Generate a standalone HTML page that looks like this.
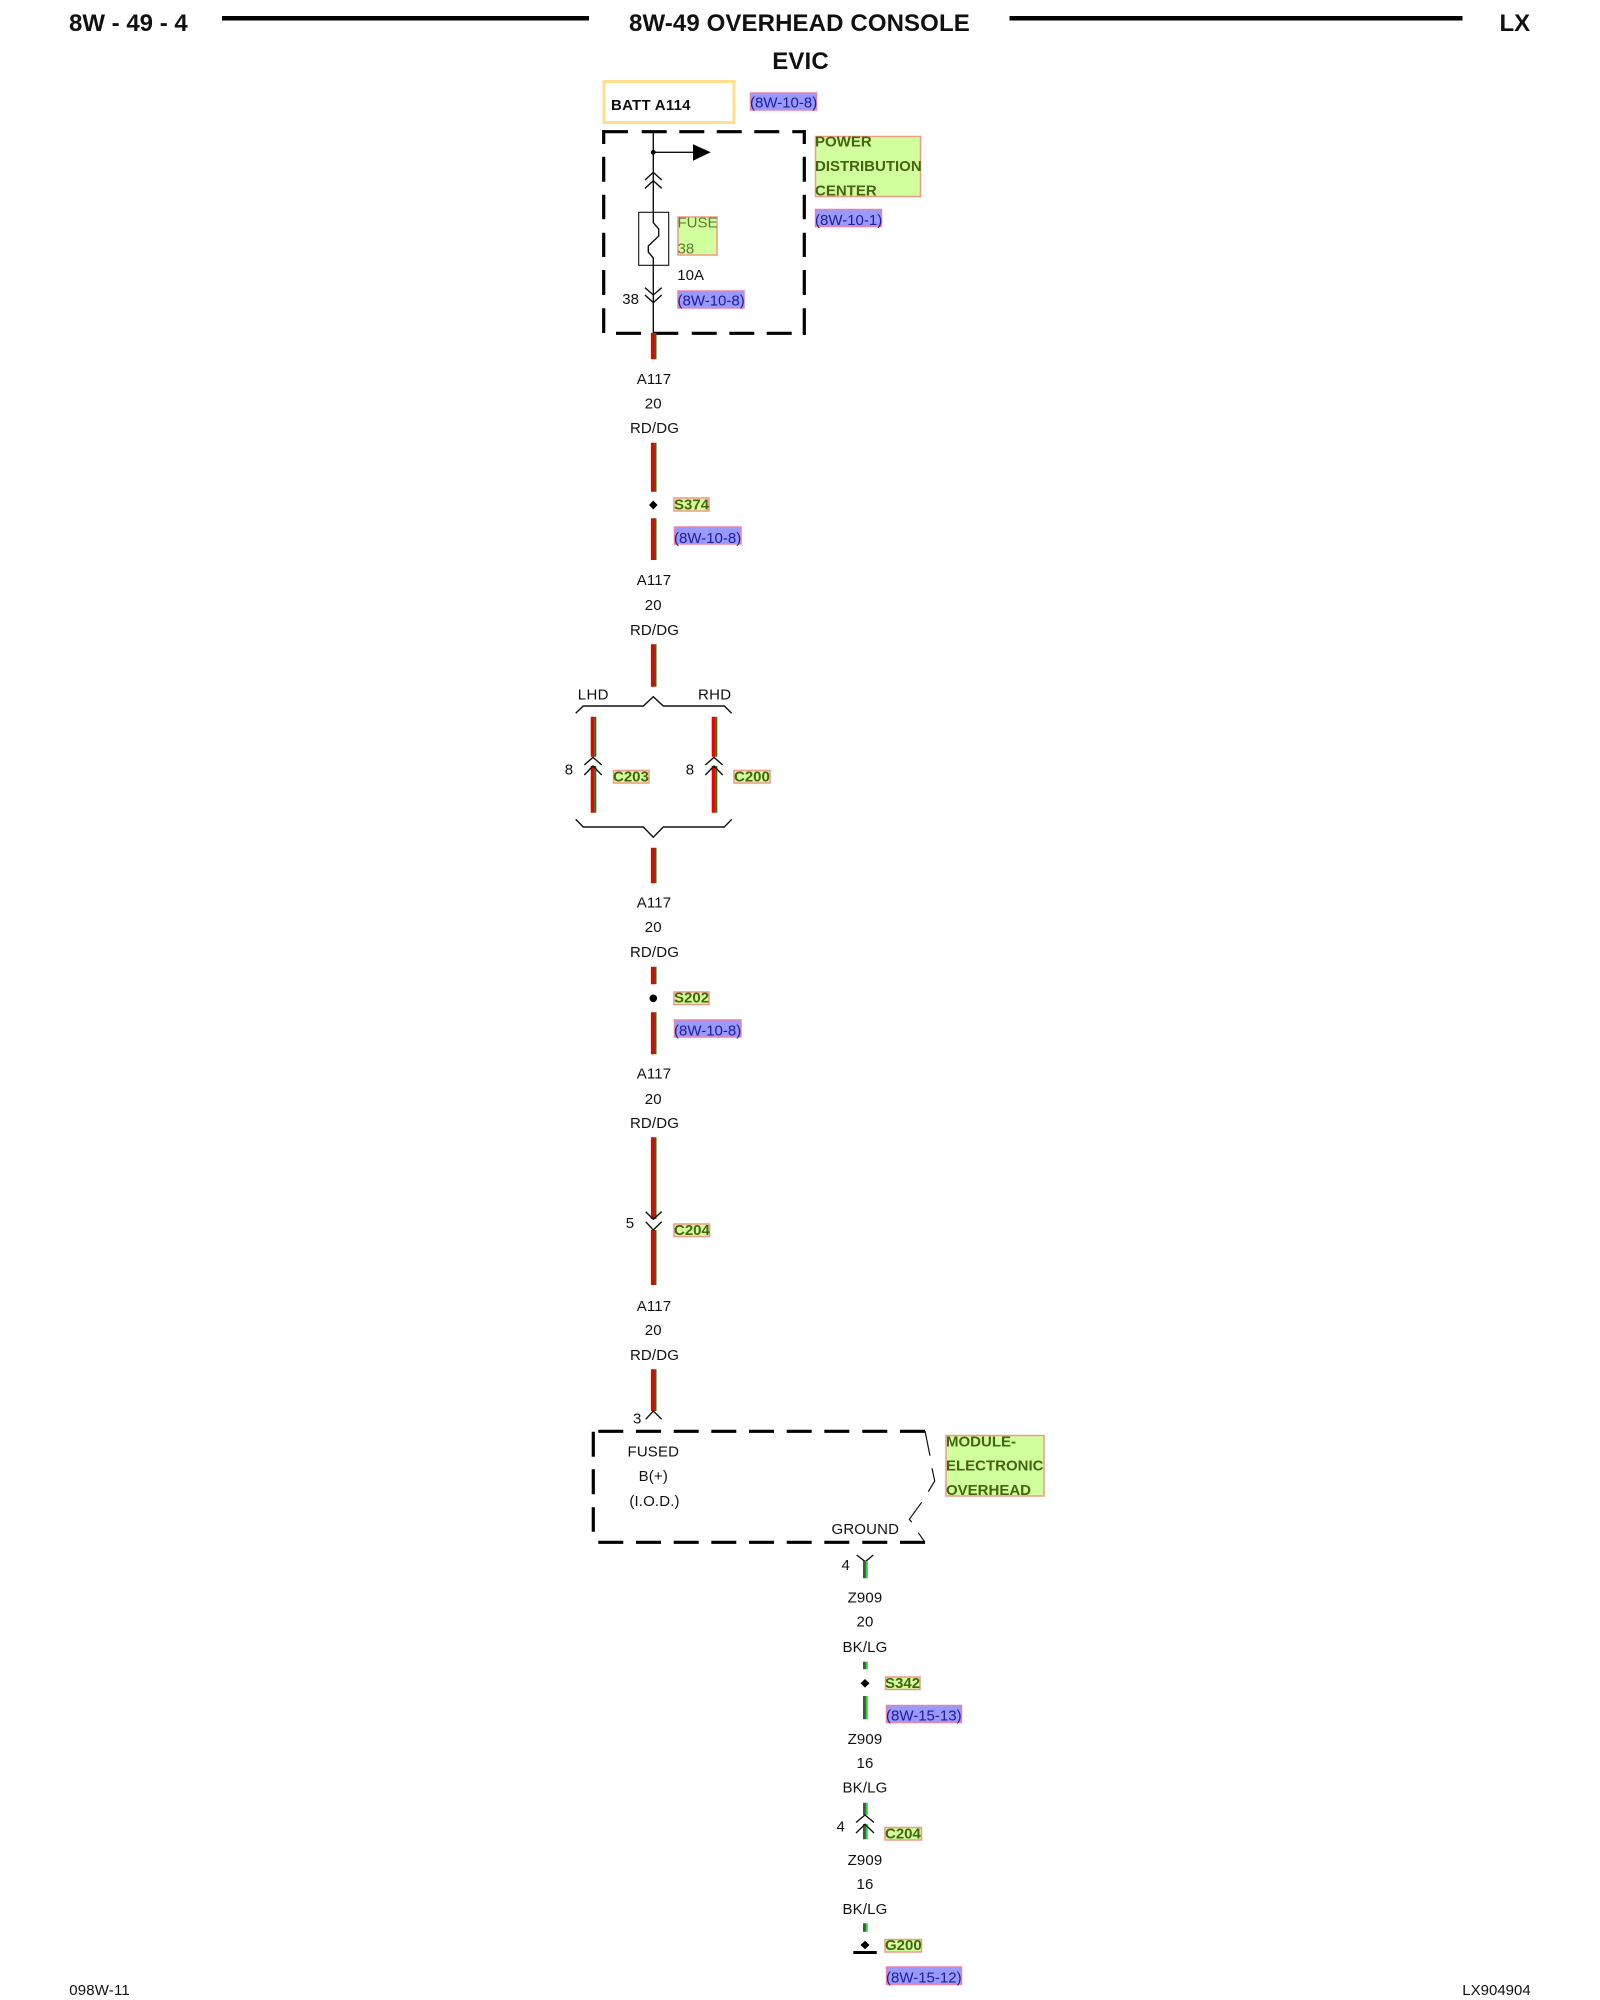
<!DOCTYPE html>
<html lang="en">
<head>
<meta charset="utf-8">
<title>8W-49 Overhead Console</title>
<style>
html,body{margin:0;padding:0;background:#fff;width:1600px;height:2000px;overflow:hidden}
svg{display:block;position:absolute;left:0;top:0}
text{font-family:"Liberation Sans",Arial,sans-serif;font-size:15px;fill:#111}
.h{font-size:24px;font-weight:bold;fill:#111}
.m{text-anchor:middle;letter-spacing:.15px}
.gb{fill:#d2ff9e;stroke:#ee9a88;stroke-width:1.5}
.bb{fill:#9999ff;stroke:#e884a8;stroke-width:1.5}
.gt{font-weight:bold;fill:#466410}
.ft{fill:#5f7a2a}
.bt{fill:#1c1c9c}
.r{fill:none;stroke:#ee0000;stroke-width:3.6}
.n{fill:none;stroke:#0f7a0f;stroke-width:2}
.d{fill:none;stroke:#505050;stroke-width:3}
.l{fill:none;stroke:#22dd33;stroke-width:2}
.k{fill:none;stroke:#111;stroke-width:1.4}
.t{fill:none;stroke:#111;stroke-width:1.2}
.dash{fill:none;stroke:#000;stroke-width:3.2}
</style>
</head>
<body>
<svg width="1600" height="2000" viewBox="0 0 1600 2000" xmlns="http://www.w3.org/2000/svg">
<rect width="1600" height="2000" fill="#fff"/>

<!-- header -->
<text class="h" x="69" y="31">8W - 49 - 4</text>
<rect x="222" y="16" width="367" height="4.5" fill="#000"/>
<text class="h" x="629" y="31" style="letter-spacing:.12px">8W-49 OVERHEAD CONSOLE</text>
<rect x="1009.5" y="16" width="453" height="4.5" fill="#000"/>
<text class="h" x="1499.5" y="31">LX</text>
<text class="h m" x="800.5" y="69">EVIC</text>

<!-- battery -->
<rect x="604" y="81.5" width="130" height="41" fill="#fff" stroke="#ffdf8c" stroke-width="3"/>
<text x="611" y="110" style="font-weight:bold;letter-spacing:.25px">BATT A114</text>
<rect class="bb" x="750.5" y="93" width="66" height="17"/>
<text class="bt" x="750" y="107.7">(8W-10-8)</text>

<!-- PDC dashed box -->
<path class="dash" d="M603 131.7H628M641.7 131.7H666.7M679.3 131.7H704.3M716.7 131.7H741.7M754.3 131.7H779.3M792.3 131.7H805.8
M616 333.3H641M654 333.3H678.3M691.7 333.3H716.7M729.3 333.3H754.3M766.7 333.3H791.7
M603.7 130V144M603.7 156.7V181.7M603.7 194.7V219.3M603.7 232.7V257M603.7 270V295M603.7 308.3V333
M804.3 130V144M804.3 156.7V181.7M804.3 194.7V219.3M804.3 232.7V257M804.3 270V295M804.3 308.3V335"/>
<path class="k" stroke-linejoin="round" d="M653.3 131V222.7L658.7 229V236L648.3 246V252L653.3 258V333"/>
<path class="k" d="M653.3 152.3H693M645 180L653.3 172.3L661.7 180M645 188.3L653.3 180.7L661.7 188.3M645 287.7L653.3 295L661.7 287.7M645 295L653.3 302.7L661.7 295"/>
<circle cx="653.3" cy="152.3" r="2.4" fill="#000"/>
<path d="M693 144.3L710.7 152.3L693 160.7Z" fill="#000"/>
<rect x="638.7" y="212.3" width="30" height="53" fill="none" stroke="#111" stroke-width="1.1"/>

<rect class="gb" x="678" y="217" width="39" height="38"/>
<text class="ft" x="677.5" y="227.7">FUSE</text>
<text class="ft" x="677.5" y="253.3">38</text>
<text x="677.3" y="280">10A</text>
<text class="m" x="630.7" y="304">38</text>
<rect class="bb" x="678" y="291" width="66" height="17"/>
<text class="bt" x="677.5" y="305.5">(8W-10-8)</text>

<rect class="gb" x="815.5" y="136.5" width="105" height="60"/>
<text class="gt" x="815" y="146.3">POWER</text>
<text class="gt" x="815" y="171">DISTRIBUTION</text>
<text class="gt" x="815" y="195.5">CENTER</text>
<rect class="bb" x="815.5" y="209.5" width="66" height="17"/>
<text class="bt" x="815" y="225">(8W-10-1)</text>

<!-- main harness wires -->
<path class="r" d="M652.7 333V359.3M652.7 442.7V491.7M652.7 518.3V560M652.7 644.3V686.7M652.7 847.7V883.3M652.7 966.7V984.3M652.7 1012.3V1054.3M652.7 1137.3V1219M652.7 1230V1285M652.7 1369.3V1411"/>
<path class="n" d="M655.5 333V359.3M655.5 442.7V491.7M655.5 518.3V560M655.5 644.3V686.7M655.5 847.7V883.3M655.5 966.7V984.3M655.5 1012.3V1054.3M655.5 1137.3V1219M655.5 1230V1285M655.5 1369.3V1411"/>

<!-- A117 labels -->
<text class="m" x="654" y="384">A117</text><text class="m" x="653.3" y="408.5">20</text><text class="m" x="654.5" y="433">RD/DG</text>
<text class="m" x="654" y="585">A117</text><text class="m" x="653.3" y="610">20</text><text class="m" x="654.5" y="635">RD/DG</text>
<text class="m" x="654" y="907.5">A117</text><text class="m" x="653.3" y="932">20</text><text class="m" x="654.5" y="957">RD/DG</text>
<text class="m" x="654" y="1078.3">A117</text><text class="m" x="653.3" y="1104">20</text><text class="m" x="654.5" y="1128">RD/DG</text>
<text class="m" x="654" y="1311">A117</text><text class="m" x="653.3" y="1335">20</text><text class="m" x="654.5" y="1360">RD/DG</text>

<!-- S374 -->
<path d="M653.3 500.5L657.6 505L653.3 509.5L649 505Z" fill="#000"/>
<rect class="gb" x="674" y="498" width="35" height="13"/>
<text class="gt" x="674" y="509.7">S374</text>
<rect class="bb" x="674.5" y="527" width="66.5" height="17"/>
<text class="bt" x="674" y="542.8">(8W-10-8)</text>

<!-- LHD / RHD -->
<text x="577.8" y="699.3" style="letter-spacing:.3px">LHD</text>
<text x="698" y="699.3" style="letter-spacing:.3px">RHD</text>
<path class="k" d="M575.7 713.3L583.3 706H643.3L653.3 696.7L663.3 706H724.3L731.7 713.3"/>
<path class="k" d="M575.7 819.3L583.3 827H643.3L653.3 837.3L663.3 827H724.3L731.7 819.3"/>
<path class="r" d="M592.5 716.7V756.7M592.5 766V812.7M713.5 716.7V756.7M713.5 766V812.7"/>
<path class="n" d="M595.3 716.7V756.7M595.3 766V812.7M716.3 716.7V756.7M716.3 766V812.7"/>
<path class="k" d="M584.3 765L593 757.3L601.7 765M584.3 775L593 766L601.7 775M705.3 765L714 757.3L722.7 765M705.3 775L714 766L722.7 775"/>
<text class="m" x="569" y="774.3">8</text>
<text class="m" x="690" y="774.3">8</text>
<rect class="gb" x="613.5" y="770.5" width="35.5" height="12.5"/>
<text class="gt" x="613" y="781.7">C203</text>
<rect class="gb" x="734" y="770.5" width="36" height="12.5"/>
<text class="gt" x="734" y="781.7">C200</text>

<!-- S202 -->
<circle cx="653.3" cy="998.3" r="3.8" fill="#000"/>
<rect class="gb" x="674" y="992" width="35" height="12.5"/>
<text class="gt" x="674" y="1002.7">S202</text>
<rect class="bb" x="674.5" y="1020" width="66.5" height="17"/>
<text class="bt" x="674" y="1035.5">(8W-10-8)</text>

<!-- C204 top -->
<path class="k" d="M645.7 1211.7L653.3 1219.3L661.7 1211.7M645.7 1221.7L653.3 1230L661.7 1221.7"/>
<text class="m" x="630" y="1227.8">5</text>
<rect class="gb" x="674" y="1224" width="35.5" height="12.5"/>
<text class="gt" x="674" y="1235">C204</text>

<!-- Module -->
<text class="m" x="637.3" y="1423.7">3</text>
<path class="k" d="M645.7 1419.3L653.3 1411L661.7 1419.3"/>
<path class="dash" d="M598.3 1431.3H623.3M636 1431.3H661M673.7 1431.3H698.7M711.3 1431.3H736.3M749 1431.3H774M786.7 1431.3H811.7M824.3 1431.3H849.3M862.3 1431.3H887.3M900 1431.3H925
M598.3 1542.3H623.3M636 1542.3H661M673.7 1542.3H698.7M711.3 1542.3H736.3M749 1542.3H774M786.7 1542.3H811.7M824.3 1542.3H849.3M862.3 1542.3H887.3M900 1542.3H925
M593.3 1431.7V1456.7M593.3 1469.3V1494.3M593.3 1507.3V1531.7"/>
<path class="t" d="M925 1431L930 1455.7M932 1468.3L934.7 1481L928.3 1491.7M921.7 1502.3L909.3 1519.3L911.7 1522.3M918.3 1532.7L925 1542.3"/>
<text class="m" x="653.3" y="1456.5">FUSED</text>
<text class="m" x="653.3" y="1481">B(+)</text>
<text class="m" x="654.5" y="1506">(I.O.D.)</text>
<text class="m" x="865.3" y="1534">GROUND</text>
<rect class="gb" x="946" y="1435.5" width="98" height="60.5"/>
<text class="gt" x="946" y="1446.5">MODULE-</text>
<text class="gt" x="946" y="1470.5">ELECTRONIC</text>
<text class="gt" x="946" y="1494.8">OVERHEAD</text>

<!-- ground harness -->
<text class="m" x="845.7" y="1570">4</text>
<path class="k" d="M856.7 1555L865.3 1561.7L873.3 1555"/>
<path class="d" d="M864.5 1561V1578.3M864.5 1661.7V1669.3M864.5 1696V1719.3M864.5 1802.7V1815M864.5 1824V1839.3M864.5 1923.3V1931.7"/>
<path class="l" d="M866.8 1561V1578.3M866.8 1661.7V1669.3M866.8 1696V1719.3M866.8 1802.7V1815M866.8 1824V1839.3M866.8 1923.3V1931.7"/>
<text class="m" x="865" y="1602.5">Z909</text><text class="m" x="865" y="1626.5">20</text><text class="m" x="865" y="1652">BK/LG</text>
<path d="M865 1679L869.5 1683.3L865 1687.6L860.5 1683.3Z" fill="#000"/>
<rect class="gb" x="885.5" y="1677" width="34.5" height="12.5"/>
<text class="gt" x="885" y="1688">S342</text>
<rect class="bb" x="886.5" y="1705.5" width="75" height="17"/>
<text class="bt" x="886" y="1720.3">(8W-15-13)</text>
<text class="m" x="865" y="1744">Z909</text><text class="m" x="865" y="1767.8">16</text><text class="m" x="865" y="1792.7">BK/LG</text>
<path class="k" d="M856 1822.5L865 1815L874 1822.5M856 1833L865 1824.3L874 1833"/>
<text class="m" x="840.7" y="1831.7">4</text>
<rect class="gb" x="885" y="1827.5" width="36.5" height="12.5"/>
<text class="gt" x="885" y="1838.7">C204</text>
<text class="m" x="865" y="1865">Z909</text><text class="m" x="865" y="1889">16</text><text class="m" x="865" y="1914">BK/LG</text>
<path d="M865 1940.7L869.5 1945L865 1949.3L860.5 1945Z" fill="#000"/>
<rect x="853.3" y="1951" width="23.4" height="3" fill="#000"/>
<rect class="gb" x="885" y="1939.5" width="36.5" height="12.5"/>
<text class="gt" x="885" y="1950">G200</text>
<rect class="bb" x="886.5" y="1967" width="75" height="17.5"/>
<text class="bt" x="886" y="1982.7">(8W-15-12)</text>

<!-- footer -->
<text x="69.3" y="1995" style="letter-spacing:.15px">098W-11</text>
<text x="1462.3" y="1995">LX904904</text>
</svg>
</body>
</html>
